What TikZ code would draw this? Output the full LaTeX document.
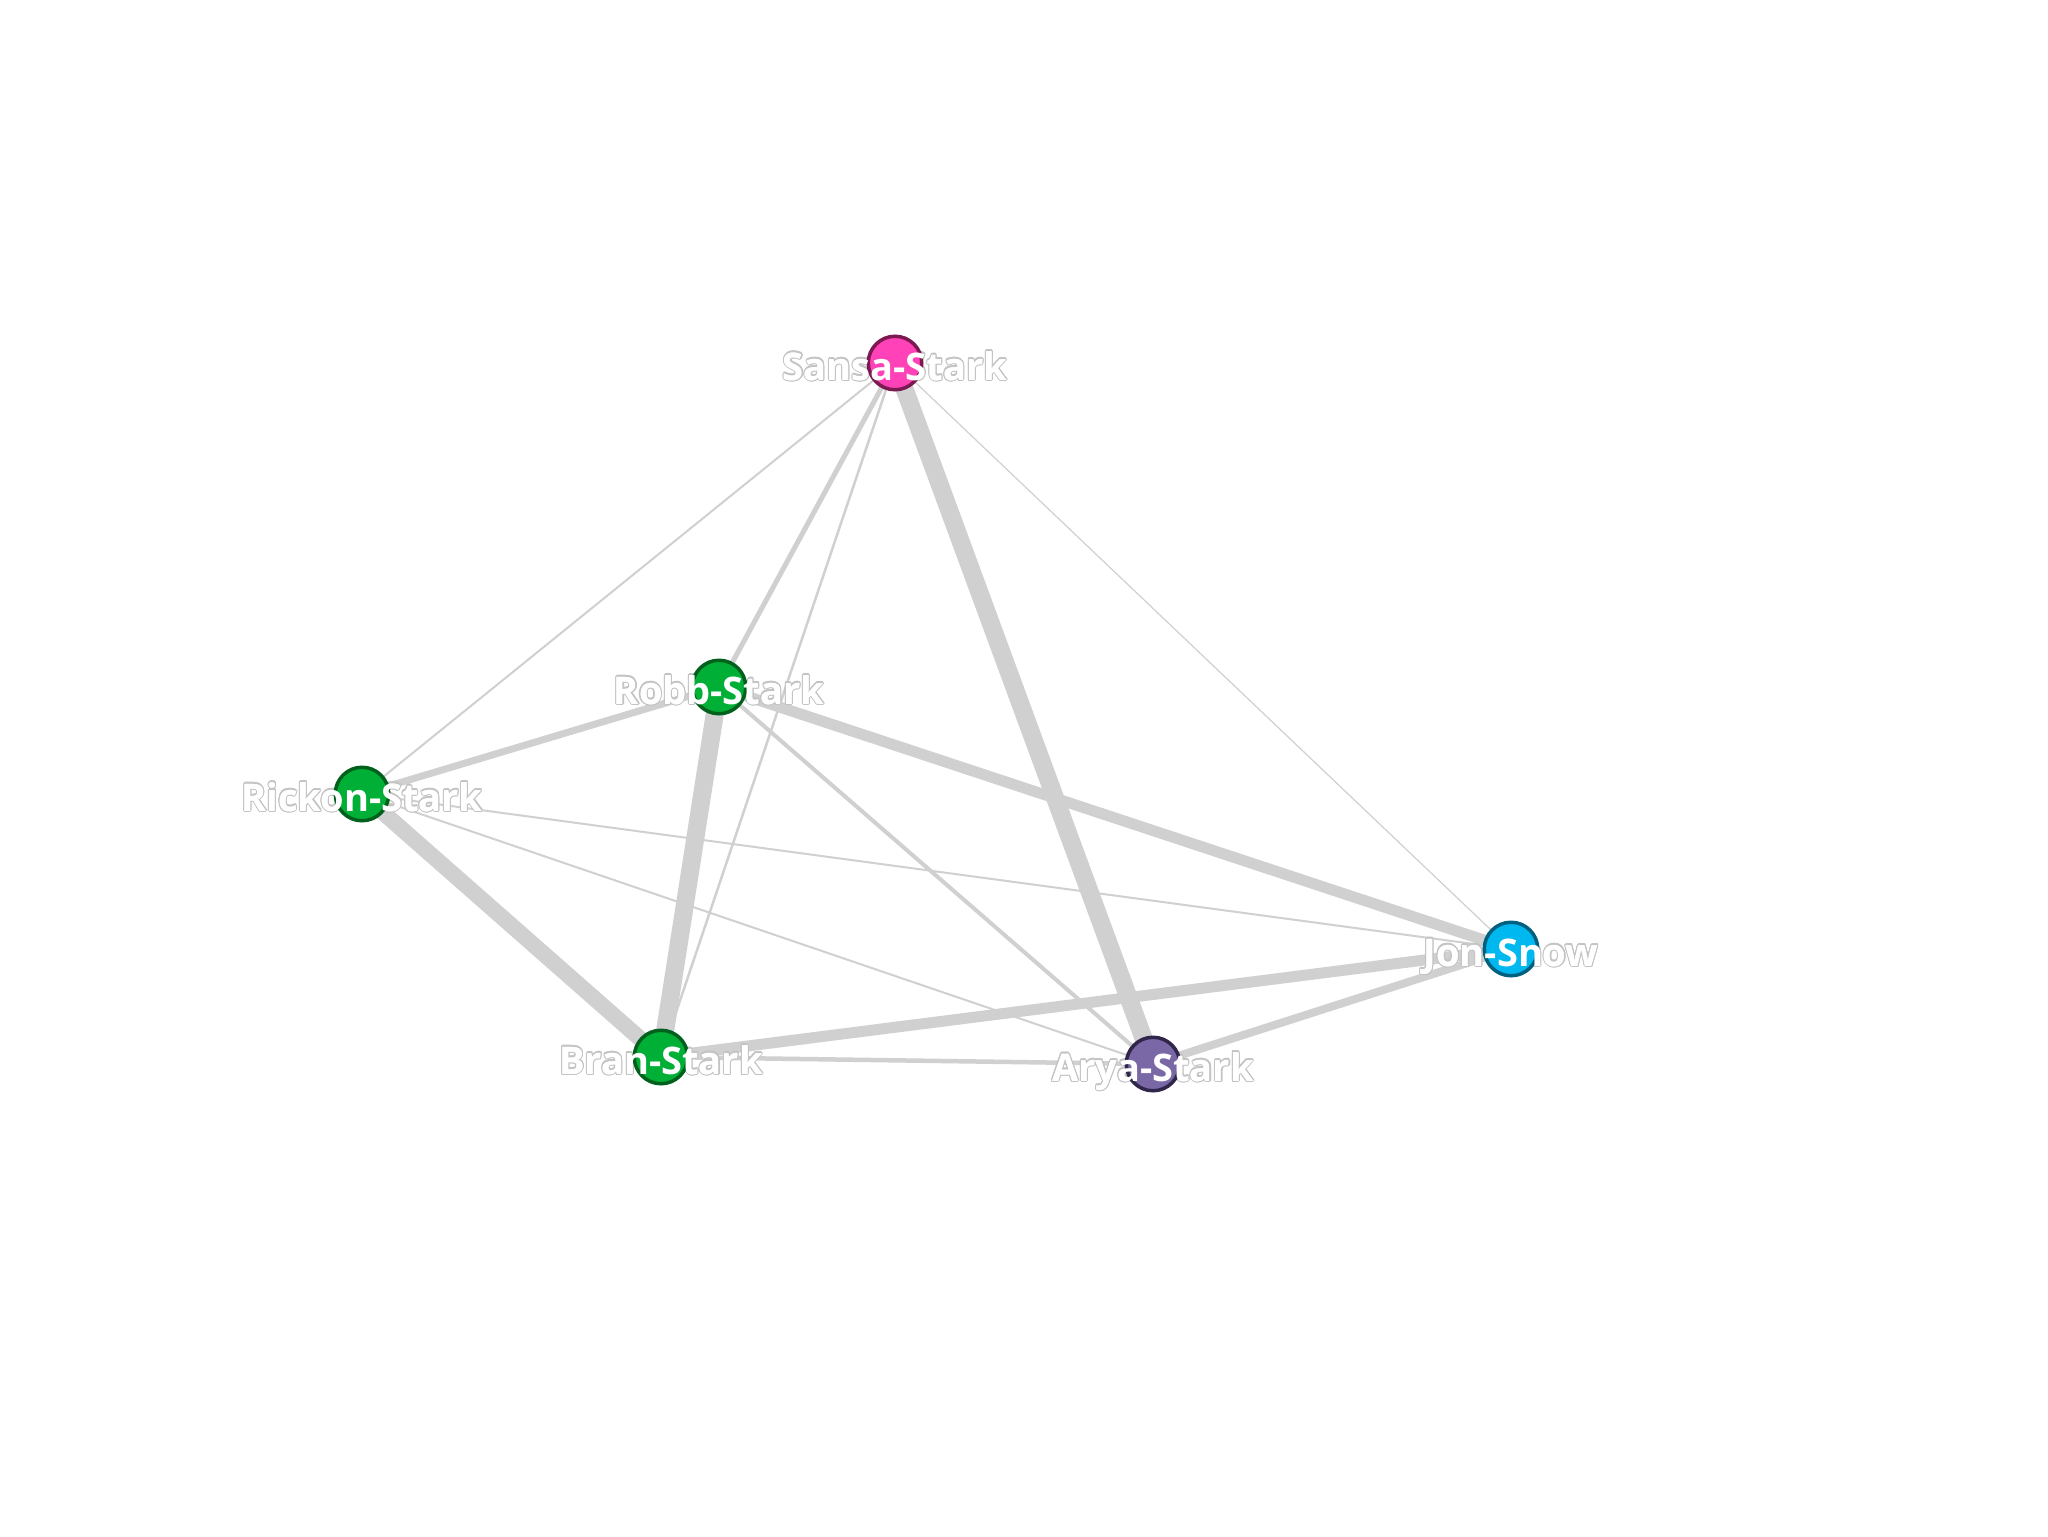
\documentclass[tikz,border=0pt]{standalone}
\usepackage{fontspec}
\setmainfont{Open Sans}
\usetikzlibrary{calc}
\definecolor{edgecol}{RGB}{208,208,208}
\definecolor{halocol}{RGB}{196,196,196}
\definecolor{pinkfill}{RGB}{255,66,184}
\definecolor{pinkline}{RGB}{122,26,80}
\definecolor{greenfill}{RGB}{0,176,54}
\definecolor{greenline}{RGB}{0,96,28}
\definecolor{purplefill}{RGB}{122,104,166}
\definecolor{purpleline}{RGB}{48,38,74}
\definecolor{cyanfill}{RGB}{0,184,240}
\definecolor{cyanline}{RGB}{0,96,128}
\pgfdeclarelayer{bg}
\pgfdeclarelayer{edges}
\pgfdeclarelayer{labels}
\pgfdeclarelayer{toptext}
\pgfsetlayers{bg,edges,labels,main,toptext}
\tikzset{
  person/.style={circle,minimum size=26.75pt,inner sep=0pt,line width=1.75pt},
  sansastyle/.style={person,fill=pinkfill,draw=pinkline},
  starkstyle/.style={person,fill=greenfill,draw=greenline},
  aryastyle/.style={person,fill=purplefill,draw=purpleline},
  jonstyle/.style={person,fill=cyanfill,draw=cyanline},
  link/.style={draw=edgecol,line width=#1*0.5pt},
  labtxt/.style={anchor=base,inner sep=0pt,font=\fontsize{19pt}{22pt}\selectfont\bfseries}
}
\newcommand\halolabel[3]{%
  \begin{pgfonlayer}{labels}
  \foreach \a in {0,22.5,...,337.5} {\node[labtxt,text=halocol] at ([shift={(\a:0.55pt)}]$(#1)+(0,17)$) {#2};}
  \node[labtxt,text=white] (#3) at ($(#1)+(0,17)$) {#2};
  \end{pgfonlayer}
  \begin{pgfonlayer}{toptext}
  \node[labtxt,text=white] at ($(#1)+(0,17)$) {#2};
  \end{pgfonlayer}
}
\begin{document}
\begin{tikzpicture}[x=0.5pt,y=-0.5pt]
\begin{pgfonlayer}{bg}
\fill[white] (0,0) rectangle (2048,1536);
\end{pgfonlayer}
\useasboundingbox (0,0) rectangle (2048,1536);
\node[sansastyle] (sansa) at (895,363) {};
\node[starkstyle] (robb) at (719,687) {};
\node[starkstyle] (rickon) at (362,794) {};
\node[starkstyle] (bran) at (661,1057) {};
\node[aryastyle] (arya) at (1153,1064) {};
\node[jonstyle] (jon) at (1511,949) {};
\begin{pgfonlayer}{edges}
\draw[link=1.2] (sansa.center) -- (jon.center);
\draw[link=2] (sansa.center) -- (rickon.center);
\draw[link=2.5] (sansa.center) -- (bran.center);
\draw[link=2] (rickon.center) -- (arya.center);
\draw[link=2] (rickon.center) -- (jon.center);
\draw[link=4] (robb.center) -- (arya.center);
\draw[link=4.5] (bran.center) -- (arya.center);
\draw[link=5] (sansa.center) -- (robb.center);
\draw[link=7] (rickon.center) -- (robb.center);
\draw[link=8] (arya.center) -- (jon.center);
\draw[link=11] (bran.center) -- (jon.center);
\draw[link=11] (robb.center) -- (jon.center);
\draw[link=16] (rickon.center) -- (bran.center);
\draw[link=18] (robb.center) -- (bran.center);
\draw[link=18] (sansa.center) -- (arya.center);
\end{pgfonlayer}
\halolabel{sansa}{Sansa-Stark}{sansaL}
\halolabel{robb}{Robb-Stark}{robbL}
\halolabel{rickon}{Rickon-Stark}{rickonL}
\halolabel{bran}{Bran-Stark}{branL}
\halolabel{arya}{Arya-Stark}{aryaL}
\halolabel{jon}{Jon-Snow}{jonL}
\end{tikzpicture}
\end{document}
